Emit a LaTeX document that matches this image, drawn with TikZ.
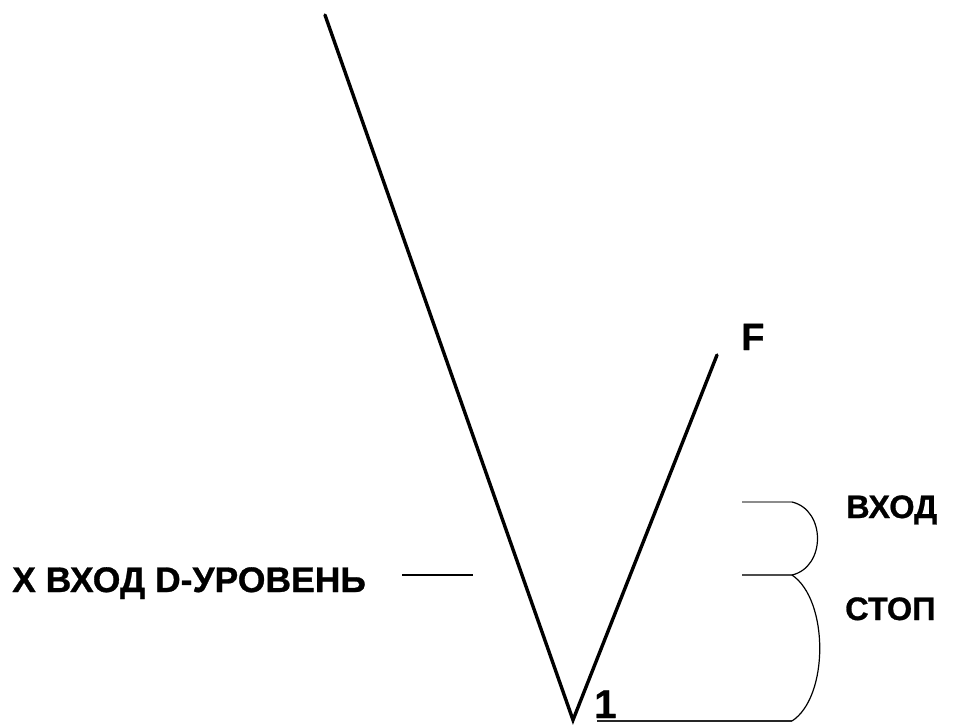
\documentclass[tikz,border=0pt]{standalone}
\usepackage{fontspec}
\setmainfont{Liberation Sans}
\newfontfamily\lblfont{Liberation Sans Bold}[FakeBold=0.8]
\begin{document}
\begin{tikzpicture}[x=1pt,y=-1pt,
  lbl/.style={font=\lblfont\fontsize{32.5}{33}\selectfont, inner sep=0pt},
  thick line/.style={line width=3.4pt, black},
  thin line/.style={line width=1.6pt},
  arcline/.style={line width=1.2pt, black}]
\useasboundingbox (0,0) rectangle (967,724);
% main V
\coordinate (top) at (325,15);
\coordinate (v) at (573,720);
\coordinate (fend) at (717,355);
\draw[thick line, line cap=round] (top) -- (v) -- (fend);
\node[lbl, anchor=base west, font=\lblfont\fontsize{38}{38}\selectfont] (F) at (741,350) {F};
\node[lbl, anchor=base west, font=\lblfont\fontsize{40}{40}\selectfont] (one) at (594,718) {1};
% left label and tick
\node[lbl, anchor=base west, font=\lblfont\fontsize{35.5}{36}\selectfont] (xin) at (12,592) {X ВХОД D-УРОВЕНЬ};
\coordinate (t1) at (402,575);
\coordinate (t2) at (473,575);
\draw[line width=2.6pt] (t1) -- (t2);
% right braces
\coordinate (a1) at (742,502);
\coordinate (a2) at (792,502);
\coordinate (b1) at (742,575);
\coordinate (b2) at (792,575);
\coordinate (c1) at (597,721);
\coordinate (c2) at (792,721);
\draw[thin line, black!45] (a1) -- (a2);
\draw[thin line, black!70] (b1) -- (b2);
\draw[line width=2.2pt, black!85] (c1) -- (c2);
\draw[arcline] (a2) .. controls (826,510) and (826,567) .. (b2);
\draw[arcline] (b2) .. controls (829,600) and (829,697) .. (c2);
\node[lbl, anchor=base west] (vhod) at (846,518) {ВХОД};
\node[lbl, anchor=base west] (stop) at (845,620) {СТОП};
\end{tikzpicture}
\end{document}
